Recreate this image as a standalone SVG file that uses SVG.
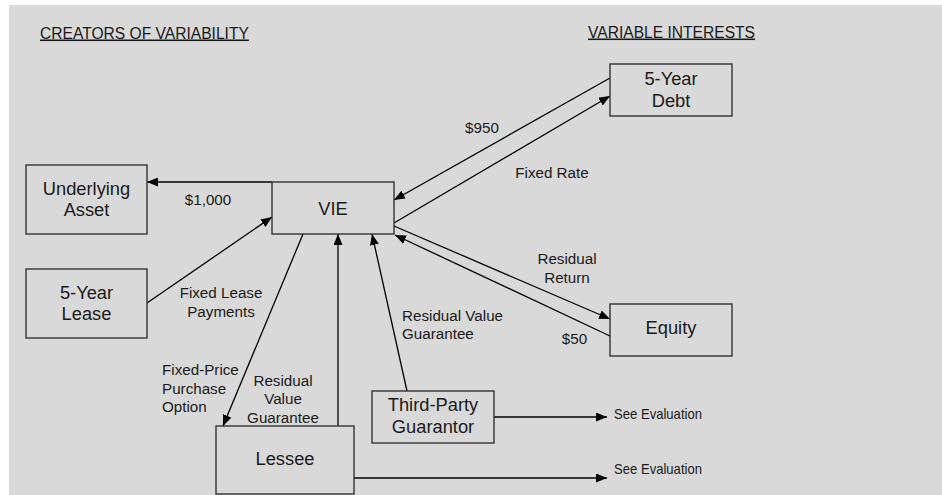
<svg xmlns="http://www.w3.org/2000/svg" width="942" height="495" viewBox="0 0 942 495">
<defs>
<marker id="arr" markerUnits="userSpaceOnUse" markerWidth="11" markerHeight="9" refX="11" refY="4.5" orient="auto">
<path d="M0,0 L11,4.5 L0,9 z" fill="#000"/>
</marker>
<style>
.box{fill:#d9d9d9;stroke:#333;stroke-width:1.4}
.bl{font-family:"Liberation Sans",Arial,sans-serif;font-size:18.3px;fill:#1a1a1a;text-anchor:middle}
.lb{font-family:"Liberation Sans",Arial,sans-serif;font-size:15.2px;fill:#1a1a1a}
.se{font-size:14.6px}
.c{text-anchor:middle}
.hd{font-family:"Liberation Sans",Arial,sans-serif;font-size:15.6px;fill:#1a1a1a;text-decoration:underline}
.ln{stroke:#000;stroke-width:1.3;fill:none;marker-end:url(#arr)}
</style>
</defs>
<rect x="0" y="0" width="942" height="495" fill="#fff"/>
<rect x="9" y="5" width="933" height="490" fill="#d9d9d9"/>
<g id="headings">
<text class="hd" x="40" y="38.5">CREATORS OF VARIABILITY</text>
<text class="hd" x="588" y="37.5">VARIABLE INTERESTS</text>
</g>
<g id="connectors">
<path class="ln" d="M272,182 L147,182"/>
<path class="ln" d="M147,303 L272,217"/>
<path class="ln" d="M303,234 L223,426"/>
<path class="ln" d="M338,426 L338,234"/>
<path class="ln" d="M407,391 L372,234"/>
<path class="ln" d="M394,223 L610,96"/>
<path class="ln" d="M610,78 L394,200"/>
<path class="ln" d="M394,226 L610,319"/>
<path class="ln" d="M610,336 L395,235"/>
<path class="ln" d="M494,417 L607,417"/>
<path class="ln" d="M354,478 L607,478"/>
</g>
<g id="labels">
<text class="lb c" x="208" y="205">$1,000</text>
<text class="lb c" x="221" y="298">Fixed Lease</text>
<text class="lb c" x="221" y="317">Payments</text>
<text class="lb c" x="482" y="133">$950</text>
<text class="lb c" x="552" y="178">Fixed Rate</text>
<text class="lb c" x="567" y="264">Residual</text>
<text class="lb c" x="567" y="283">Return</text>
<text class="lb" x="402" y="321">Residual Value</text>
<text class="lb" x="402" y="339">Guarantee</text>
<text class="lb c" x="574.5" y="344">$50</text>
<text class="lb" x="162" y="375">Fixed-Price</text>
<text class="lb" x="162" y="394">Purchase</text>
<text class="lb" x="162" y="412">Option</text>
<text class="lb c" x="283" y="386">Residual</text>
<text class="lb c" x="283" y="404">Value</text>
<text class="lb c" x="283" y="423">Guarantee</text>
<text class="lb se" x="614" y="419" textLength="88" lengthAdjust="spacingAndGlyphs">See Evaluation</text>
<text class="lb se" x="614" y="474" textLength="88" lengthAdjust="spacingAndGlyphs">See Evaluation</text>
</g>
<g id="underlying-asset">
<rect class="box" x="26" y="165" width="121" height="69"/>
<text class="bl" x="86.5" y="195">Underlying</text>
<text class="bl" x="86.5" y="216">Asset</text>
</g>
<g id="five-year-lease">
<rect class="box" x="26" y="269" width="121" height="69"/>
<text class="bl" x="86.5" y="299">5-Year</text>
<text class="bl" x="86.5" y="320">Lease</text>
</g>
<g id="vie">
<rect class="box" x="272" y="182" width="122" height="52"/>
<text class="bl" x="333" y="215">VIE</text>
</g>
<g id="five-year-debt">
<rect class="box" x="610" y="64" width="122" height="52"/>
<text class="bl" x="671" y="85">5-Year</text>
<text class="bl" x="671" y="107">Debt</text>
</g>
<g id="equity">
<rect class="box" x="610" y="304" width="122" height="52"/>
<text class="bl" x="671" y="334">Equity</text>
</g>
<g id="third-party-guarantor">
<rect class="box" x="372" y="391" width="122" height="52"/>
<text class="bl" x="433" y="411">Third-Party</text>
<text class="bl" x="433" y="433">Guarantor</text>
</g>
<g id="lessee">
<rect class="box" x="216" y="426" width="138" height="68"/>
<text class="bl" x="285" y="465">Lessee</text>
</g>
</svg>
